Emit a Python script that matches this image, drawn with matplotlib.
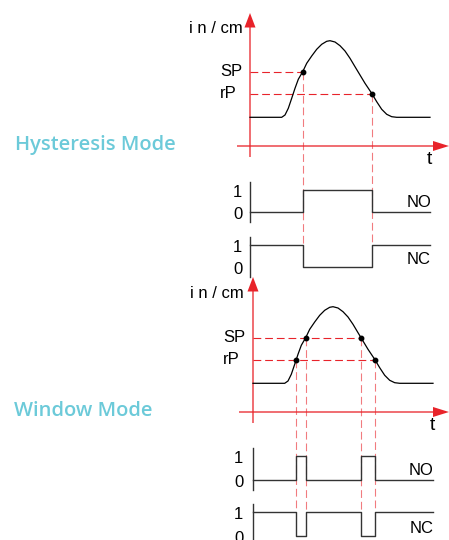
import matplotlib.pyplot as plt

plt.rcParams['font.family'] = ['Liberation Sans', 'DejaVu Sans']

# level curve (t, level), same curve in both modes
curve_t = [0.0, 3.17, 3.5, 3.83, 4.17, 4.5, 4.83, 5.27, 5.67, 6.17, 6.67, 7.17,
           7.67, 8.0, 8.5, 9.0, 9.5, 10.0, 10.5, 11.0, 11.5, 12.17, 12.67,
           13.17, 13.67, 14.17, 14.67, 18.0]
curve_level = [2.87, 2.87, 3.1, 3.77, 4.77, 5.77, 6.67, 7.43, 8.27, 9.0, 9.67,
               10.17, 10.47, 10.53, 10.4, 10.03, 9.5, 8.77, 7.93, 7.1, 6.27,
               5.27, 4.43, 3.67, 3.17, 2.93, 2.87, 2.87]
sp_level = 7.45
rp_level = 5.25

# hysteresis: on at SP going up, off at rP going down
hyst_cross_t = [5.27, 12.17]
hyst_cross_level = [sp_level, rp_level]
hyst_sw_t = [0.0, 5.27, 12.17, 18.0]
hyst_no = [0, 1, 0, 0]

# window: on while the level is between rP and SP
win_cross_t = [4.33, 5.27, 10.8, 12.17]
win_cross_level = [rp_level, sp_level, sp_level, rp_level]
win_sw_t = [0.0, 4.33, 5.27, 10.8, 12.17, 18.0]
win_no = [0, 1, 0, 1, 0, 0]

red = '#e8232a'
ink = '#333333'
teal = '#6ccad9'
dash = (0, (7, 3.5))

fig = plt.figure(figsize=(4.49, 5.40), dpi=100)


def draw_mode(ax, title, title_x, cross_t, cross_level, sw_t, no, sp_to, sig):
    no_base, nc_base, amp, x_left, v_top, lab_x, x_tip = sig
    ax.axis('off')
    ax.patch.set_alpha(0)

    # red axes with arrows
    ax.arrow(0, -1.1, 0, v_top + 1.1, width=0.13, head_width=1.1, head_length=1.45,
             length_includes_head=True, color=red, lw=0)
    ax.arrow(x_left, 0, x_tip - x_left, 0, width=0.13, head_width=1.0, head_length=1.6,
             length_includes_head=True, color=red, lw=0)

    # guide lines
    ax.plot([0, sp_to], [sp_level, sp_level], color=red, lw=0.8, linestyle=dash)
    ax.plot([0, max(cross_t)], [rp_level, rp_level], color=red, lw=0.8, linestyle=dash)
    for t, lv in zip(cross_t, cross_level):
        ax.plot([t, t], [lv, nc_base + amp], color=red, lw=0.8, linestyle=dash, alpha=0.6)

    ax.plot(curve_t, curve_level, color='black', lw=0.9)
    ax.plot(cross_t, cross_level, 'o', ms=3.2, color='black')

    # switching outputs
    nc = [1 - v for v in no]
    ax.step(sw_t, [no_base + v * amp for v in no], where='post', color=ink, lw=1.0)
    ax.step(sw_t, [nc_base + v * amp for v in nc], where='post', color=ink, lw=1.0)
    ax.plot([0, 0], [no_base + amp + 0.8, no_base - 1.0], color=ink, lw=1.0)
    ax.plot([0, 0], [nc_base + amp + 0.8, nc_base - 1.0], color=ink, lw=1.0)

    fs = 12
    ax.text(lab_x, 11.8, 'i n / cm', ha='right', va='center', fontsize=fs)
    ax.text(-3.0, sp_level - 0.48, 'SP', ha='left', va='baseline', fontsize=fs)
    ax.text(-3.0, rp_level - 0.48, 'rP', ha='left', va='baseline', fontsize=fs)
    ax.text(17.9, -1.75, 't', ha='center', va='baseline', fontsize=14)
    for base in (no_base, nc_base):
        ax.text(lab_x, base + amp - 0.7, '1', ha='right', va='baseline', fontsize=fs)
        ax.text(lab_x, base - 0.7, '0', ha='right', va='baseline', fontsize=fs)
    ax.text(18.1, no_base + 0.5, 'NO', ha='right', va='baseline', fontsize=fs)
    ax.text(18.1, nc_base + 0.3, 'NC', ha='right', va='baseline', fontsize=fs)

    ax.text(title_x, -0.4, title, ha='left', va='baseline', fontsize=14.5,
            family='Open Sans', weight='semibold', color=teal)


ax1 = fig.add_axes([0, 0, 1, 1])
ax1.set_xlim(-25.0, 19.9)
ax1.set_ylim(-39.4, 14.6)
draw_mode(ax1, 'Hysteresis Mode', -23.5, hyst_cross_t, hyst_cross_level, hyst_sw_t,
          hyst_no, hyst_cross_t[0], (-6.6, -12.1, 2.2, -1.3, 13.3, -0.75, 19.9))

ax2 = fig.add_axes([0, 0, 1, 1])
ax2.set_xlim(-25.3, 19.6)
ax2.set_ylim(-12.8, 41.2)
draw_mode(ax2, 'Window Mode', -23.9, win_cross_t, win_cross_level, win_sw_t, win_no,
          win_cross_t[2], (-6.8, -12.4, 2.4, -1.4, 13.5, -0.95, 19.6))

fig.savefig('out.png', dpi=100)
